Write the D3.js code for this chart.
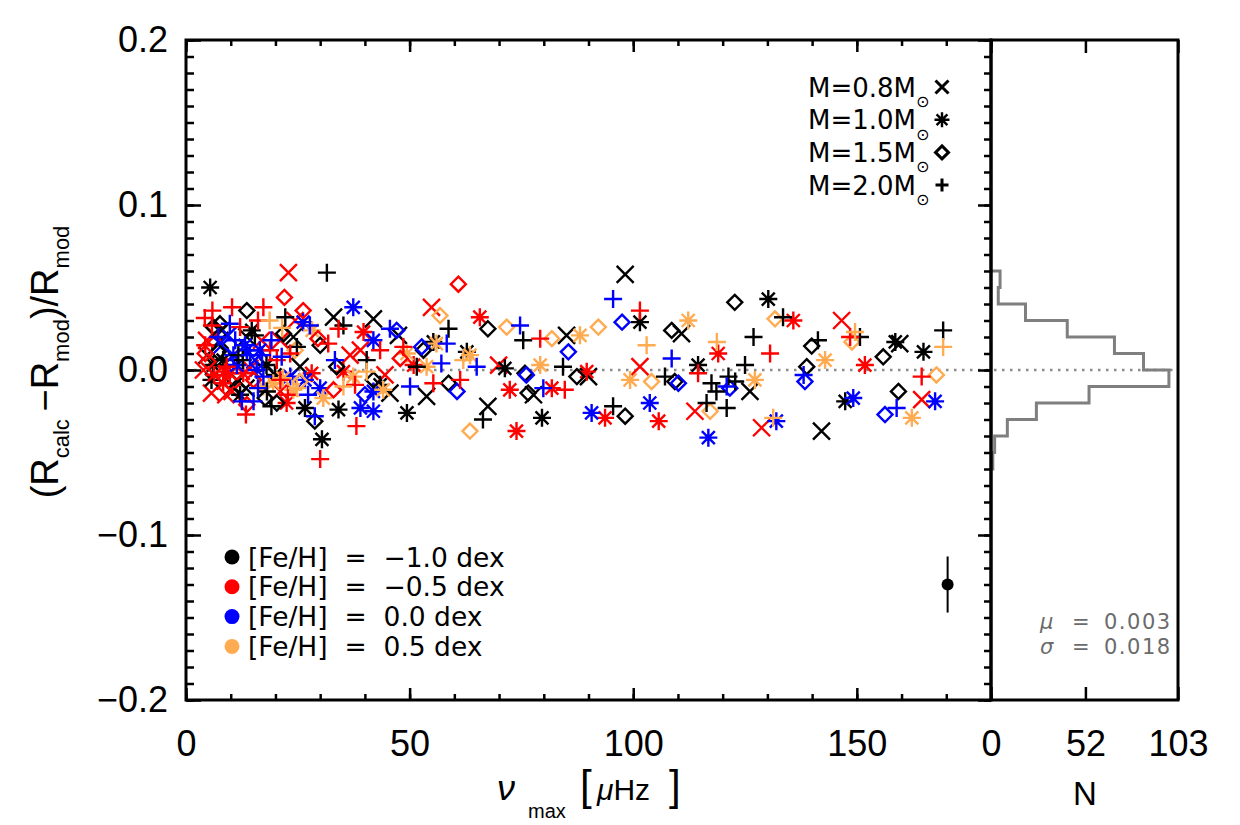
<!DOCTYPE html>
<html>
<head>
<meta charset="utf-8">
<script src="https://cdnjs.cloudflare.com/ajax/libs/d3/7.8.5/d3.min.js"></script>
<style>
body { margin: 0; background: #fff; }
svg text { font-family: "Liberation Sans", Arial, sans-serif; fill: #000; }
.axis path.domain { display: none; }
.axis line { stroke: #000; stroke-width: 2.5; }
.axis text { font-size: 36px; font-family: "Liberation Sans", Arial, sans-serif; }
.legend text { font-family: "DejaVu Sans", sans-serif; white-space: pre; }
</style>
</head>
<body>
<div class="chart"></div>
<script>
// Data: [numax (muHz), (Rcalc-Rmod)/Rmod, [Fe/H]]
// one array per model mass (marker type)
var m08 = [
  [41.9,0.031,-1],[33.0,0.032,-1],[13.6,0.020,-1],[24.0,0.020,-1],[11.4,-0.006,-1],[25.5,0.002,-1],
  [10.6,-0.010,-1],[7.6,0.018,-1],[4.7,0.009,-1],[47.5,0.021,-1],[85.1,0.021,-1],[53.8,-0.016,-1],
  [67.5,-0.022,-1],[45.6,-0.014,-1],[77.7,-0.015,-1],[98.2,0.058,-1],[110.8,0.022,-1],[90.0,-0.004,-1],
  [126.1,-0.013,-1],[159.6,0.016,-1],[142.1,-0.037,-1],[8.0,0.024,-1],[13.4,-0.011,-1],
  [22.9,0.059,-0.5],[4.6,0.018,-0.5],[16.9,0.018,-0.5],[21.1,0.018,-0.5],[3.9,0.000,-0.5],[5.7,-0.014,-0.5],
  [39.0,0.012,-0.5],[21.1,-0.013,-0.5],[8.9,-0.015,-0.5],[24.4,0.030,-0.5],[54.9,0.038,-0.5],[69.9,0.003,-0.5],
  [44.5,-0.003,-0.5],[101.5,0.002,-0.5],[113.8,-0.025,-0.5],[128.7,-0.035,-0.5],[146.6,0.030,-0.5],[164.5,-0.018,-0.5],
  [6.5,0.021,-0.5],[14.3,0.001,-0.5],[10.3,-0.013,-0.5],[36.7,0.009,-0.5],
  [8.0,0.015,0],[15.4,0.006,0],[9.4,0.021,0]
];
var m10 = [
  [5.4,0.050,-1],[14.7,0.024,-1],[8.3,0.006,-1],[6.1,0.003,-1],[5.7,-0.006,-1],[18.0,0.003,-1],
  [26.6,-0.023,-1],[30.4,-0.042,-1],[34.1,-0.024,-1],[12.1,-0.015,-1],[55.3,0.017,-1],[62.8,0.011,-1],
  [71.3,0.001,-1],[43.4,-0.009,-1],[49.4,-0.026,-1],[79.6,-0.029,-1],[101.5,0.029,-1],[130.2,0.043,-1],
  [114.5,0.003,-1],[158.6,0.017,-1],[164.9,0.011,-1],[147.4,-0.019,-1],[19.9,-0.003,-1],
  [39.7,0.023,-0.5],[9.8,-0.002,-0.5],[12.8,-0.002,-0.5],[28.1,-0.002,-0.5],[35.2,-0.001,-0.5],[22.5,-0.020,-0.5],
  [8.3,-0.008,-0.5],[6.3,-0.003,-0.5],[65.7,0.032,-0.5],[50.9,0.003,-0.5],[73.9,-0.037,-0.5],[72.4,-0.012,-0.5],
  [81.8,-0.011,-0.5],[119.0,0.010,-0.5],[93.7,-0.029,-0.5],[105.7,-0.031,-0.5],[89.6,-0.001,-0.5],[135.8,0.030,-0.5],
  [151.8,0.003,-0.5],[8.7,-0.001,-0.5],
  [37.4,0.038,0],[26.2,0.029,0],[41.9,0.018,0],[16.5,0.012,0],[13.6,0.012,0],[10.6,0.009,0],
  [15.8,0.000,0],[23.3,-0.004,0],[30.0,-0.011,0],[39.0,-0.023,0],[41.9,-0.025,0],[41.9,-0.013,0],
  [90.7,-0.026,0],[103.7,-0.020,0],[116.8,-0.041,0],[132.0,-0.031,0],[167.5,-0.019,0],[149.2,-0.017,0],
  [13.2,0.015,0],[11.4,0.003,0],[26.6,-0.006,0],
  [19.5,-0.008,0.5],[30.7,-0.017,0.5],[37.4,-0.004,0.5],[24.0,-0.012,0.5],[17.3,-0.010,0.5],[56.0,0.016,0.5],
  [49.4,0.010,0.5],[63.5,0.009,0.5],[53.8,0.002,0.5],[79.2,0.003,0.5],[44.1,-0.012,0.5],[88.1,0.021,0.5],
  [112.3,0.030,0.5],[99.3,-0.006,0.5],[127.2,-0.006,0.5],[142.9,0.006,0.5],[162.3,-0.029,0.5],
  [21.7,-0.005,0.5],[28.2,0.024,0.5]
];
var m15 = [
  [13.6,0.036,-1],[6.1,0.026,-1],[7.6,0.028,-1],[21.8,0.022,-1],[33.7,0.002,-1],[20.3,-0.020,-1],
  [28.8,-0.031,-1],[41.9,-0.006,-1],[67.5,0.025,-1],[53.1,0.012,-1],[75.8,-0.002,-1],[76.5,-0.014,-1],
  [58.7,-0.008,-1],[108.6,0.024,-1],[122.7,0.041,-1],[87.4,-0.004,-1],[109.3,-0.007,-1],[98.2,-0.028,-1],
  [139.9,0.0145,-1],[138.8,0.002,-1],[155.9,0.008,-1],[159.3,-0.013,-1],[7.2,0.011,-1],[17.7,-0.017,-1],
  [30.0,0.015,-1],
  [22.0,0.044,-0.5],[26.2,0.036,-0.5],[29.5,0.019,-0.5],[4.3,0.010,-0.5],[15.1,-0.006,-0.5],[33.0,-0.012,-0.5],
  [13.6,-0.021,-0.5],[60.9,0.052,-0.5],[47.9,0.007,-0.5],[4.9,0.005,-0.5],
  [47.1,0.024,0],[52.7,0.014,0],[76.1,-0.003,0],[60.6,-0.013,0],[97.5,0.029,0],[85.5,0.011,0],
  [110.1,-0.008,0],[121.6,-0.011,0],[138.4,-0.007,0],[156.3,-0.027,0],[40.0,-0.015,0],
  [25.5,-0.007,0.5],[56.8,0.033,0.5],[71.7,0.026,0.5],[81.8,0.019,0.5],[63.5,-0.037,0.5],[92.2,0.026,0.5],
  [131.7,0.031,0.5],[104.1,-0.007,0.5],[117.2,-0.025,0.5],[148.9,0.017,0.5],[167.8,-0.003,0.5],[24.4,0.012,0.5]
];
var m20 = [
  [22.2,0.032,-1],[31.5,0.059,-1],[35.2,0.027,-1],[24.8,0.014,-1],[40.4,0.006,-1],[19.1,-0.022,-1],
  [11.7,0.009,-1],[18.1,-0.013,-1],[58.7,0.025,-1],[75.4,0.018,-1],[51.6,0.002,-1],[84.3,0.002,-1],
  [66.4,-0.030,-1],[126.9,0.020,-1],[125.0,0.003,-1],[107.1,-0.004,-1],[117.5,-0.008,-1],[118.6,-0.013,-1],
  [121.3,-0.004,-1],[122.8,-0.007,-1],[95.5,-0.022,-1],[116.4,-0.020,-1],[120.9,-0.023,-1],[133.5,0.032,-1],
  [150.7,0.020,-1],[141.3,0.018,-1],[169.3,0.024,-1],[15.4,0.021,-1],[12.7,0.006,-1],
  [5.9,0.036,-0.5],[10.3,0.038,-0.5],[17.3,0.038,-0.5],[34.1,0.025,-0.5],[31.8,0.016,-0.5],[12.1,0.026,-0.5],
  [23.3,0.010,-0.5],[9.1,0.002,-0.5],[20.3,0.006,-0.5],[21.1,-0.006,-0.5],[30.0,-0.054,-0.5],[38.1,-0.034,-0.5],
  [4.3,0.015,-0.5],[13.4,-0.027,-0.5],[16.1,0.030,-0.5],[43.4,0.012,-0.5],[48.6,0.014,-0.5],[79.2,0.019,-0.5],
  [55.3,-0.008,-0.5],[61.3,-0.006,-0.5],[84.7,-0.012,-0.5],[101.5,0.036,-0.5],[130.6,0.010,-0.5],[114.5,-0.002,-0.5],
  [148.5,0.020,-0.5],[164.5,-0.004,-0.5],[4.2,0.0315,-0.5],[5.8,0.027,-0.5],[18.8,0.012,-0.5],[22.8,-0.015,-0.5],
  [37.8,-0.009,-0.5],
  [27.7,0.027,0],[7.2,0.020,0],[9.8,0.028,0],[19.1,0.018,0],[21.4,0.008,0],[14.3,0.009,0],
  [17.3,-0.004,0],[27.3,-0.015,0],[12.5,-0.019,0],[15.1,-0.019,0],[28.8,-0.028,0],[45.6,0.025,0],
  [58.3,0.016,0],[74.7,0.027,0],[57.1,0.004,0],[65.0,0.002,0],[50.1,-0.010,0],[79.9,-0.011,0],
  [95.5,0.043,0],[108.6,0.007,0],[120.9,-0.010,0],[138.1,-0.003,0],[158.9,-0.023,0],
  [11.0,0.018,0],[17.0,0.009,0],[16.1,-0.011,0],[33.3,0.006,0],
  [18.7,0.030,0.5],[35.2,-0.010,0.5],[40.4,-0.001,0.5],[21.5,0.0255,0.5],[62.0,0.006,0.5],[103.0,0.015,0.5],
  [118.7,0.017,0.5],[131.3,-0.029,0.5],[149.6,0.023,0.5],[169.3,0.014,0.5],[24.8,-0.011,0.5]
];

// histogram of the deviations (bin edges and counts, bottom to top)
var binEdges = [-0.06,-0.05,-0.04,-0.03,-0.02,-0.01,0.00,0.01,0.02,0.03,0.04,0.05,0.06];
var binCounts = [1,2,9,25,54,98,84,68,42,19,4,5];

// typical error bar
var errPoint = [170.3, -0.130];
var errSize = 0.017;

var fehValues = [-1.0, -0.5, 0.0, 0.5];
var fehLabels = ["[Fe/H]  =  \u22121.0 dex", "[Fe/H]  =  \u22120.5 dex", "[Fe/H]  =  0.0 dex", "[Fe/H]  =  0.5 dex"];
var massLabels = ["M=0.8M", "M=1.0M", "M=1.5M", "M=2.0M"];
var massTypes = ["x", "ast", "dia", "plus"];
var xTicks = [0, 50, 100, 150];
var yTicks = [-0.2, -0.1, 0.0, 0.1, 0.2];
var nTicks = [0, 52, 103];
var statLabels = [["\u03bc", "0.003"], ["\u03c3", "0.018"]];

// Set up chart
var svgWidth = 1240;
var svgHeight = 825;

var svg = d3.select(".chart")
    .append("svg")
    .attr("width", svgWidth)
    .attr("height", svgHeight);

var x = d3.scaleLinear().domain([0, 180]).range([186, 991]);
var xh = d3.scaleLinear().domain([0, 103]).range([991, 1178]);
var y = d3.scaleLinear().domain([-0.2, 0.2]).range([700, 40]);

var color = d3.scaleOrdinal()
    .domain(fehValues)
    .range(["#000000", "#ff0000", "#0000ff", "#ffab52"]);

function markerPath(type, s) {
    if (type === "x") {
        return "M" + (-s) + "," + (-s) + "L" + s + "," + s + "M" + (-s) + "," + s + "L" + s + "," + (-s);
    }
    if (type === "ast") {
        var d = s * 0.72;
        return "M" + (-s) + ",0H" + s + "M0," + (-s) + "V" + s +
            "M" + (-d) + "," + (-d) + "L" + d + "," + d + "M" + (-d) + "," + d + "L" + d + "," + (-d);
    }
    if (type === "dia") {
        return "M0," + (-s) + "L" + s + ",0L0," + s + "L" + (-s) + ",0Z";
    }
    return "M" + (-s) + ",0H" + s + "M0," + (-s) + "V" + s;
}
var markerSize = { x: 8.5, ast: 9, dia: 7.5, plus: 9 };

// dotted zero line across both panels
svg.append("line")
    .attr("x1", x(0)).attr("x2", xh(103))
    .attr("y1", y(0)).attr("y2", y(0))
    .attr("stroke", "#8c8c8c")
    .attr("stroke-width", 2.5)
    .attr("stroke-dasharray", "2.5,5.5");

// scatter points
var allPoints = [];
[m08, m10, m15, m20].forEach(function(arr, i) {
    arr.forEach(function(p) {
        allPoints.push({ nu: p[0], dr: p[1], feh: p[2], type: massTypes[i] });
    });
});

svg.append("g")
    .selectAll("path")
    .data(allPoints)
    .enter()
    .append("path")
    .attr("transform", function(d) { return "translate(" + x(d.nu) + "," + y(d.dr) + ")"; })
    .attr("d", function(d) { return markerPath(d.type, markerSize[d.type]); })
    .attr("fill", "none")
    .attr("stroke", function(d) { return color(d.feh); })
    .attr("stroke-width", 2.4);

// error bar point
svg.append("line")
    .attr("x1", x(errPoint[0])).attr("x2", x(errPoint[0]))
    .attr("y1", y(errPoint[1] - errSize)).attr("y2", y(errPoint[1] + errSize))
    .attr("stroke", "#000").attr("stroke-width", 2);
svg.append("circle")
    .attr("cx", x(errPoint[0])).attr("cy", y(errPoint[1]))
    .attr("r", 6).attr("fill", "#000");

// histogram outline
var histPts = [[0, binEdges[0]]];
binCounts.forEach(function(c, i) {
    histPts.push([c, binEdges[i]]);
    histPts.push([c, binEdges[i + 1]]);
});
histPts.push([0, binEdges[binEdges.length - 1]]);

svg.append("path")
    .datum(histPts)
    .attr("d", d3.line().x(function(d) { return xh(d[0]); }).y(function(d) { return y(d[1]); }))
    .attr("fill", "none")
    .attr("stroke", "#7f7f7f")
    .attr("stroke-width", 3);

// axes: major + minor ticks on every side of the main panel
var minorX = d3.range(0, 181, 10);
var minorY = d3.range(-20, 21).map(function(i) { return i / 100; });

svg.append("g").attr("class", "axis")
    .attr("transform", "translate(0,700)")
    .call(d3.axisBottom(x).tickValues(minorX).tickSize(-6).tickFormat(""));
svg.append("g").attr("class", "axis")
    .attr("transform", "translate(0,700)")
    .call(d3.axisBottom(x).tickValues(xTicks).tickSize(-12).tickPadding(30).tickFormat(d3.format("d")));
svg.append("g").attr("class", "axis")
    .attr("transform", "translate(0,40)")
    .call(d3.axisTop(x).tickValues(minorX).tickSize(-6).tickFormat(""));
svg.append("g").attr("class", "axis")
    .attr("transform", "translate(0,40)")
    .call(d3.axisTop(x).tickValues(xTicks).tickSize(-12).tickFormat(""));

svg.append("g").attr("class", "axis")
    .attr("transform", "translate(186,0)")
    .call(d3.axisLeft(y).tickValues(minorY).tickSize(-8).tickFormat(""));
svg.append("g").attr("class", "axis")
    .attr("transform", "translate(186,0)")
    .call(d3.axisLeft(y).tickValues(yTicks).tickSize(-15).tickPadding(18).tickFormat(d3.format(".1f")));
svg.append("g").attr("class", "axis")
    .attr("transform", "translate(991,0)")
    .call(d3.axisRight(y).tickValues(minorY).tickSize(-7).tickFormat(""));
svg.append("g").attr("class", "axis")
    .attr("transform", "translate(991,0)")
    .call(d3.axisRight(y).tickValues(yTicks).tickSize(-13).tickFormat(""));

// histogram panel axis
svg.append("g").attr("class", "axis")
    .attr("transform", "translate(0,700)")
    .call(d3.axisBottom(xh).tickValues(nTicks).tickSize(-13).tickPadding(30).tickFormat(d3.format("d")));
svg.append("g").attr("class", "axis")
    .attr("transform", "translate(0,40)")
    .call(d3.axisTop(xh).tickValues(nTicks).tickSize(-13).tickFormat(""));

// frames
svg.append("rect")
    .attr("x", 186).attr("y", 40).attr("width", 991 - 186).attr("height", 660)
    .attr("fill", "none").attr("stroke", "#000").attr("stroke-width", 3);
svg.append("rect")
    .attr("x", 991).attr("y", 40).attr("width", 1178 - 991).attr("height", 660)
    .attr("fill", "none").attr("stroke", "#000").attr("stroke-width", 3);

// y-axis label
var yl = svg.append("text")
    .attr("transform", "translate(58,362) rotate(-90)")
    .attr("text-anchor", "middle")
    .attr("font-size", 38);
yl.append("tspan").text("(R");
yl.append("tspan").attr("font-size", 22).attr("dy", 11).text("calc");
yl.append("tspan").attr("dy", -11).text("\u2009\u2212R");
yl.append("tspan").attr("font-size", 22).attr("dy", 11).text("mod");
yl.append("tspan").attr("dy", -11).text(")/R");
yl.append("tspan").attr("font-size", 22).attr("dy", 11).text("mod");

// x-axis labels
var xl = svg.append("text").attr("y", 800).attr("font-size", 30);
xl.append("tspan").attr("x", 497).attr("font-size", 36).attr("font-style", "italic").text("\u03bd");
xl.append("tspan").attr("x", 528).attr("dy", 18).attr("font-size", 20).text("max");
xl.append("tspan").attr("x", 580).attr("dy", -18).attr("font-size", 42).text("[");
xl.append("tspan").attr("x", 597).attr("font-style", "italic").text("\u03bc");
xl.append("tspan").text("Hz");
xl.append("tspan").attr("x", 669).attr("font-size", 42).text("]");

svg.append("text")
    .attr("x", 1085).attr("y", 805)
    .attr("text-anchor", "middle")
    .attr("font-size", 33)
    .text("N");

// mass legend (top right)
var ml = svg.append("g").attr("class", "legend");
massLabels.forEach(function(lab, i) {
    var cy = 87 + i * 32.7;
    ml.append("text").attr("x", 808).attr("y", cy + 9.5).attr("font-size", 26).text(lab);
    ml.append("text").attr("x", 916).attr("y", cy + 20).attr("font-size", 16).text("\u2299");
    ml.append("path")
        .attr("transform", "translate(942," + cy + ")")
        .attr("d", markerPath(massTypes[i], massTypes[i] === "ast" ? 7.5 : (massTypes[i] === "dia" ? 6.5 : 6.5)))
        .attr("fill", "none").attr("stroke", "#000")
        .attr("stroke-width", massTypes[i] === "ast" ? 2.4 : 3);
});

// metallicity legend (bottom left)
var fl = svg.append("g").attr("class", "legend");
fehValues.forEach(function(v, i) {
    var cy = 557 + i * 29.8;
    fl.append("circle").attr("cx", 232).attr("cy", cy).attr("r", 7.5).attr("fill", color(v));
    fl.append("text").attr("x", 248).attr("y", cy + 9.5).attr("font-size", 26.5).text(fehLabels[i]);
});

// mean / scatter of the histogram
var sl = svg.append("g").attr("class", "legend");
statLabels.forEach(function(s, i) {
    var by = 629 + i * 25;
    sl.append("text").attr("x", 1040).attr("y", by).attr("font-size", 21)
        .attr("font-style", "italic").style("fill", "#6b6b6b").text(s[0]);
    sl.append("text").attr("x", 1072).attr("y", by).attr("font-size", 21)
        .style("fill", "#6b6b6b").text("=");
    sl.append("text").attr("x", 1104).attr("y", by).attr("font-size", 21)
        .attr("letter-spacing", 1.5)
        .style("fill", "#6b6b6b").text(s[1]);
});
</script>
</body>
</html>
